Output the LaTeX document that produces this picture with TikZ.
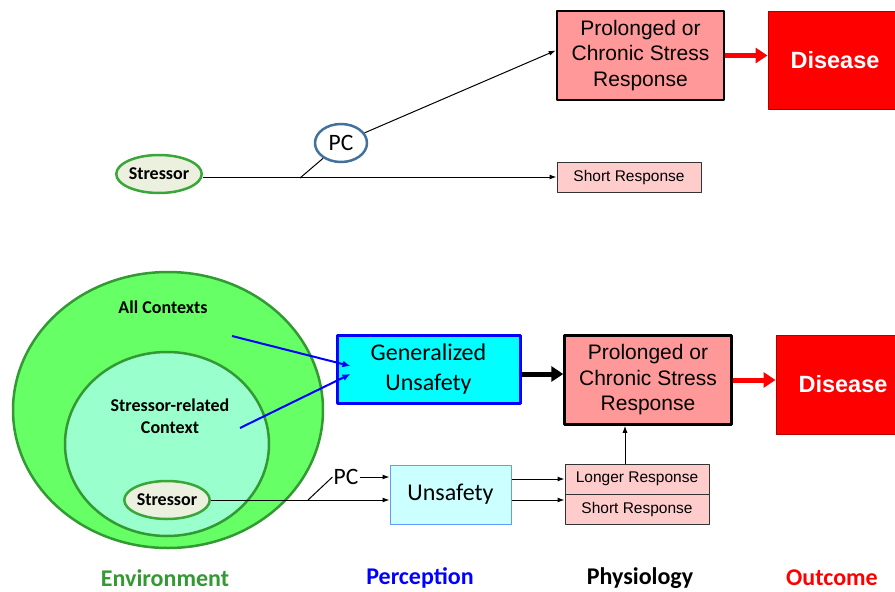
\documentclass[tikz,border=0pt]{standalone}
\usepackage{fontspec}
\setmainfont{Liberation Sans}
\newfontfamily\calfont{Carlito}
\usetikzlibrary{shapes.geometric,arrows.meta,calc,positioning}
\definecolor{salmon}{HTML}{FF9999}
\definecolor{pinkish}{HTML}{FFCCCC}
\definecolor{darkred}{HTML}{B00000}
\definecolor{envgreen}{HTML}{339933}
\definecolor{ringgreen}{HTML}{3AA63A}
\definecolor{allctx}{HTML}{66FF66}
\definecolor{relctx}{HTML}{99FFCC}
\definecolor{stressfill}{HTML}{EBF1DE}
\definecolor{pcblue}{HTML}{41719C}
\definecolor{brightcyan}{HTML}{00FFFF}
\definecolor{lightcyan}{HTML}{CCFFFF}
\definecolor{unsborder}{HTML}{6699FF}
\definecolor{pureblue}{HTML}{0000FF}
\definecolor{purered}{HTML}{FF0000}

\begin{document}
\begin{tikzpicture}[x=1pt,y=-1pt,line join=round,
  box/.style={draw,inner sep=0pt,align=center},
  chronic/.style={box,fill=salmon,line width=2.5pt,minimum width=167pt,minimum height=89pt,font=\fontsize{21}{25.5}\selectfont},
  disease/.style={box,fill=purered,draw=darkred,line width=1pt,text=white,minimum width=134pt,minimum height=98pt,font=\fontsize{23.5}{28}\selectfont\bfseries},
  resp/.style={box,fill=pinkish,draw=black!80,line width=1pt,minimum width=144pt,minimum height=30pt,font=\fontsize{15.5}{18}\selectfont},
  stress/.style={ellipse,draw=ringgreen,fill=stressfill,line width=2.5pt,inner sep=0pt,minimum width=84pt,minimum height=38pt,font=\calfont\fontsize{18}{21}\selectfont\bfseries},
  thin arrow/.style={line width=1pt,-{Latex[length=7pt,width=5pt]}},
  red arrow/.style={purered,line width=5pt,-{Triangle[length=12pt,width=15pt]}},
  fat arrow/.style={black,line width=5pt,-{Triangle[length=12pt,width=15pt]}},
  blue arrow/.style={pureblue,line width=2pt,-{Latex[length=8pt,width=7pt]}},
  footer/.style={font=\calfont\fontsize{24}{28}\selectfont\bfseries}]
\useasboundingbox (0,0) rectangle (895,592);

% top row
\node[chronic] (pr1) at (640.5,55.5) {Prolonged or\\Chronic Stress\\Response};
\node[disease] (dis1) at (835,60) {Disease};
\node[resp] (sr1) at (629,177) {Short Response};
\node[stress] (st1) at (159,174) {Stressor};
\node[ellipse,draw=pcblue,fill=white,line width=2.5pt,inner sep=0pt,minimum width=52pt,minimum height=38pt,font=\calfont\fontsize{23.5}{28}\selectfont] (pc1) at (341,143) {PC};
\coordinate (k1) at (300,178);
\draw[thin arrow] (st1.east |- sr1) -- (sr1.west);
\draw[line width=1pt] (k1) -- (pc1);
\draw[thin arrow] (pc1) -- ($(pr1.west)+(0,-5)$);
\draw[red arrow] (pr1.east) -- (dis1.west |- pr1.east);

% bottom row
\node[ellipse,draw=envgreen,fill=allctx,line width=2.5pt,minimum width=310pt,minimum height=276pt] (all) at (168,410) {};
\node[ellipse,draw=envgreen,fill=relctx,line width=2.5pt,minimum width=204pt,minimum height=184pt] (rel) at (167,444) {};
\node[font=\calfont\fontsize{18}{22}\selectfont\bfseries] (allt) at (163,307) {All Contexts};
\node[font=\calfont\fontsize{18}{22}\selectfont\bfseries,align=center] (relt) at (170,416) {Stressor-related\\Context};
\node[stress] (st2) at (167,500) {Stressor};

\node[box,fill=brightcyan,draw=pureblue,line width=3pt,minimum width=183pt,minimum height=68pt,font=\calfont\fontsize{24}{30}\selectfont] (gen) at (428.5,369) {Generalized\\Unsafety};
\node[box,fill=lightcyan,draw=unsborder,line width=1pt,minimum width=121pt,minimum height=59pt,font=\calfont\fontsize{24}{28}\selectfont] (uns) at (450.5,494.5) {Unsafety};
\node[chronic] (pr2) at (648,380) {Prolonged or\\Chronic Stress\\Response};
\node[disease,minimum height=99pt] (dis2) at (843,384.5) {Disease};
\node[resp] (lr) at (637,479) {Longer Response};
\node[resp] (sr2) at (637,509) {Short Response};
\node[font=\calfont\fontsize{23.5}{28}\selectfont,inner sep=1pt] (pc2) at (346,477) {PC};

\coordinate (ac) at (232,336);
\coordinate (sc) at (240,428);
\coordinate (yg) at (0,374);
\coordinate (xv) at (625,0);
\coordinate (k2) at (308,500);
\draw[blue arrow] (ac) -- ($(gen.west)+(15,-3)$);
\draw[blue arrow] (sc) -- ($(gen.west)+(15,5)$);
\draw[fat arrow] (gen.east |- yg) -- (pr2.west |- yg);
\draw[red arrow] (pr2.east) -- (dis2.west |- pr2.east);
\draw[thin arrow] (st2.east) -- (uns.west |- st2.east);
\draw[line width=1pt] (k2) -- (pc2.west);
\draw[thin arrow] (pc2.east) -- (uns.west |- pc2.east);
\draw[thin arrow] (uns.east |- lr) -- (lr.west);
\draw[thin arrow] (uns.east |- st2.east) -- (sr2.west |- st2.east);
\draw[thin arrow] (lr.north -| xv) -- (pr2.south -| xv);

% column labels
\foreach \x/\t/\c in {165/Environment/envgreen,420/Perception/pureblue,640/Physiology/black,832/Outcome/purered}
  \node[footer,text=\c] (lab-\t) at (\x,578) {\t};
\end{tikzpicture}
\end{document}
